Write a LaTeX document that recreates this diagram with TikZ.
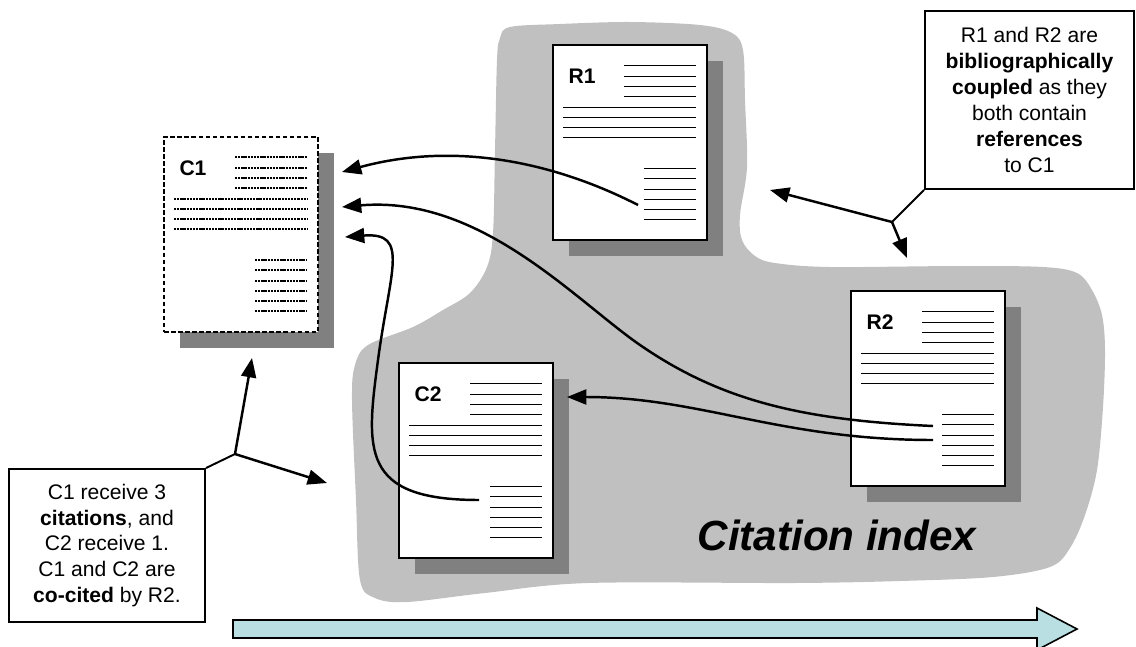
\documentclass[tikz,border=0pt]{standalone}
\usepackage{fontspec}
\setmainfont{Liberation Sans}
\usepackage{tikz}
\usetikzlibrary{arrows.meta,shadows}

\definecolor{blobgray}{RGB}{192,192,192}
\definecolor{shadegray}{RGB}{128,128,128}
\definecolor{timecyan}{RGB}{185,223,226}

\tikzset{
    docpage/.style={draw=black,fill=white,inner sep=0pt,outer sep=0pt,anchor=north west,
        minimum width=3.08cm,minimum height=3.9cm,
        drop shadow={shadow xshift=0.32cm,shadow yshift=-0.32cm,fill=shadegray,opacity=1}},
    solidpage/.style={line width=0.8pt},
    dashedpage/.style={line width=1.2pt,dash pattern=on 2.6pt off 1.4pt},
    solidtext/.style={line width=0.55pt},
    dashedtext/.style={line width=0.7pt,dash pattern=on 1.3pt off 0.5pt},
    doclabel/.style={font=\fontsize{12}{14}\selectfont\bfseries,inner sep=0pt},
    notebox/.style={draw=black,line width=1.1pt,fill=white,align=center,inner sep=0pt,
        font=\fontsize{12}{14.7}\selectfont},
    citeline/.style={line width=1.4pt,-{Triangle[length=11pt,width=8.5pt]}},
}

\begin{document}
\begin{tikzpicture}[x=0.02cm,y=-0.02cm]
    \useasboundingbox (0,0) rectangle (1136,646);

    % grey area of the index
    \fill[blobgray] plot[smooth cycle,tension=0.55] coordinates {
        (510,27) (560,24) (630,22) (700,25) (732,33) (743,50) (745,100) (747,167)
        (740,215) (742,240) (755,256) (775,263) (830,267) (960,266) (1043,267)
        (1077,273) (1092,290) (1102,315) (1105,350) (1103,407) (1097,470)
        (1085,515) (1070,548) (1050,567) (993,577) (900,581) (794,583) (588,583)
        (485,593) (407,602) (375,598) (360,580) (356,500) (352,400) (355,365)
        (368,345) (413,327) (443,310) (470,293) (487,267) (493,233) (495,150)
        (497,60) (500,38)};

    % time arrow
    \draw[fill=timecyan,line width=0.9pt] (233,620) -- (1037,620) -- (1037,608) -- (1077,629)
        -- (1037,650) -- (1037,638) -- (233,638) -- cycle;

    % the four documents
    \foreach \nm/\px/\py/\bd/\ln in {C1/164/137/dashedpage/dashedtext, R1/553/45/solidpage/solidtext,
            C2/399/363/solidpage/solidtext, R2/851/291/solidpage/solidtext} {
        \node[docpage,\bd] (\nm) at (\px,\py) {};
        \node[doclabel] at ([shift={(29,31)}]\nm.north west) {\nm};
        \foreach \dy in {20,31,41,51}
            \draw[\ln] ([shift={(71,\dy)}]\nm.north west) -- ++(72,0);
        \foreach \dy in {62,72,82,92}
            \draw[\ln] ([shift={(10,\dy)}]\nm.north west) -- ++(133,0);
        \foreach \dy in {123,133,144,154,164,174}
            \draw[\ln] ([shift={(91,\dy)}]\nm.north west) -- ++(52,0);
    }

    % reference ends and arrow targets
    \coordinate (r1ref) at ([shift={(85,160)}]R1.north west);
    \coordinate (r2refa) at ([shift={(82,135)}]R2.north west);
    \coordinate (r2refb) at ([shift={(82,149)}]R2.north west);
    \coordinate (c2ref) at ([shift={(80,137)}]C2.north west);
    \coordinate (c1in1) at ([shift={(24,35)}]C1.north east);
    \coordinate (c1in2) at ([shift={(24,70)}]C1.north east);
    \coordinate (c1in3) at ([shift={(27,100)}]C1.north east);
    \coordinate (c2in) at ([shift={(14,34)}]C2.north east);

    \draw[citeline] (r1ref) .. controls (560,165) and (460,140) .. (c1in1);
    \draw[citeline] (r2refa) .. controls (800,420) and (720,400) .. (640,345)
        .. controls (575,300) and (480,195) .. (c1in2);
    \draw[citeline] (c2ref) .. controls (360,500) and (366,450) .. (378,360)
        .. controls (390,270) and (410,232) .. (c1in3);
    \draw[citeline] (r2refb) .. controls (780,440) and (700,397) .. (c2in);

    % notes
    \node[notebox,minimum width=4.18cm,minimum height=3.56cm] (coupling) at (1029.5,100)
        {R1 and R2 are\\ \textbf{bibliographically}\\ \textbf{coupled} as they\\ both contain\\ \textbf{references}\\ to C1};
    \node[notebox,minimum width=3.92cm,minimum height=3.06cm] (cocite) at (107,545.5)
        {C1 receive 3\\ \textbf{citations}, and\\ C2 receive 1.\\ C1 and C2 are\\ \textbf{co-cited} by R2.};

    \coordinate (cpjoint) at (892,222);
    \coordinate (cpleft) at (770,190);
    \coordinate (cpdown) at (907,258);
    \draw[line width=1.1pt] (coupling.south west) -- (cpjoint);
    \draw[citeline] (cpjoint) -- (cpleft);
    \draw[citeline] (cpjoint) -- (cpdown);

    \coordinate (ccjoint) at (235,454);
    \coordinate (ccup) at (252,358);
    \coordinate (ccright) at (327,483);
    \draw[line width=1.1pt] (cocite.north east) -- (ccjoint);
    \draw[citeline] (ccjoint) -- (ccup);
    \draw[citeline] (ccjoint) -- (ccright);

    \node[font=\fontsize{24}{29}\selectfont\bfseries\itshape] (cindex) at (837,535) {Citation index};
\end{tikzpicture}
\end{document}
